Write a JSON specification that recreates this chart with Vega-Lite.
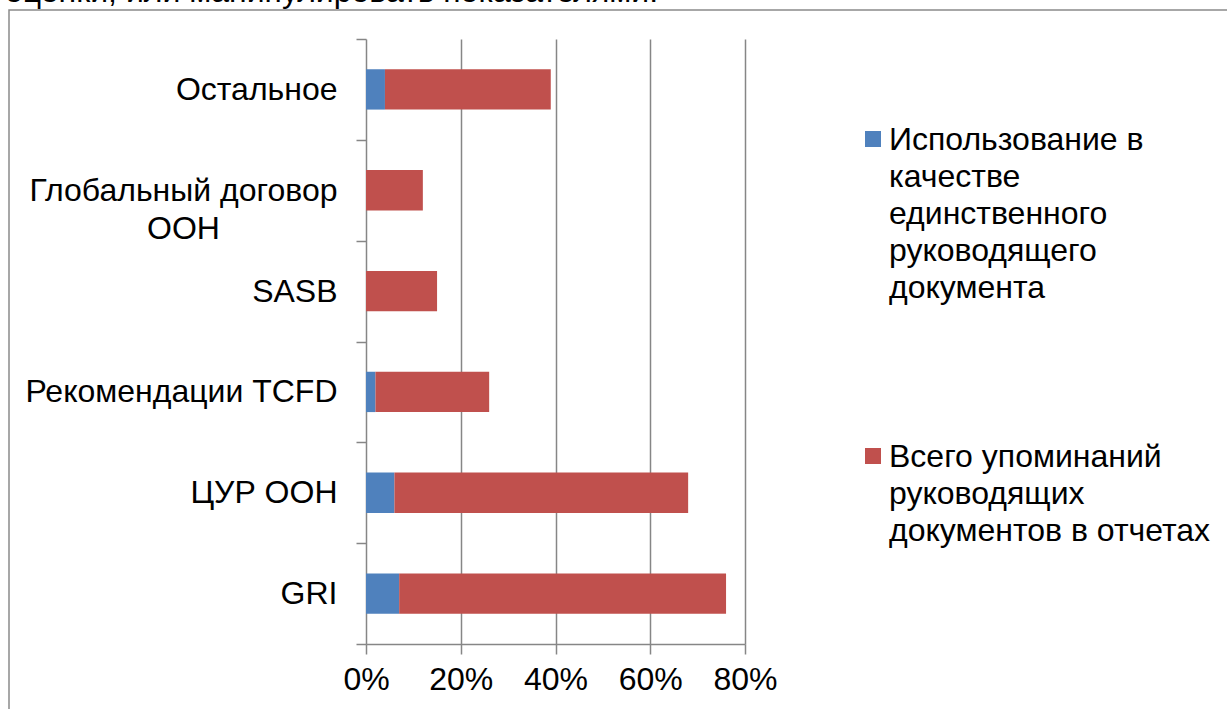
{
  "$schema": "https://vega.github.io/schema/vega-lite/v6.json",
  "width": 1230,
  "height": 711,
  "autosize": {"type": "none"},
  "padding": {"left": 9, "top": 10, "right": -12, "bottom": -12},
  "background": "white",
  "title": {
    "text": "оценки, или манипулировать показателями.",
    "anchor": "start",
    "frame": "group",
    "orient": "top",
    "baseline": "alphabetic",
    "offset": -40,
    "dx": -4,
    "font": "Liberation Sans",
    "fontSize": 32,
    "fontWeight": "normal",
    "color": "black"
  },
  "config": {
    "view": {"stroke": "#8a8a8a", "strokeWidth": 1.5},
    "font": "Liberation Sans"
  },
  "data": {
    "values": [
      {"category": "Остальное", "series": "Использование в качестве единственного руководящего документа", "series_order": 1, "value": 0.04},
      {"category": "Остальное", "series": "Всего упоминаний руководящих документов в отчетах", "series_order": 2, "value": 0.35},
      {"category": "Глобальный договор ООН", "series": "Использование в качестве единственного руководящего документа", "series_order": 1, "value": 0.0},
      {"category": "Глобальный договор ООН", "series": "Всего упоминаний руководящих документов в отчетах", "series_order": 2, "value": 0.12},
      {"category": "SASB", "series": "Использование в качестве единственного руководящего документа", "series_order": 1, "value": 0.0},
      {"category": "SASB", "series": "Всего упоминаний руководящих документов в отчетах", "series_order": 2, "value": 0.15},
      {"category": "Рекомендации TCFD", "series": "Использование в качестве единственного руководящего документа", "series_order": 1, "value": 0.02},
      {"category": "Рекомендации TCFD", "series": "Всего упоминаний руководящих документов в отчетах", "series_order": 2, "value": 0.24},
      {"category": "ЦУР ООН", "series": "Использование в качестве единственного руководящего документа", "series_order": 1, "value": 0.06},
      {"category": "ЦУР ООН", "series": "Всего упоминаний руководящих документов в отчетах", "series_order": 2, "value": 0.62},
      {"category": "GRI", "series": "Использование в качестве единственного руководящего документа", "series_order": 1, "value": 0.07},
      {"category": "GRI", "series": "Всего упоминаний руководящих документов в отчетах", "series_order": 2, "value": 0.69}
    ]
  },
  "encoding": {
    "y": {
      "field": "category",
      "type": "nominal",
      "sort": ["Остальное", "Глобальный договор ООН", "SASB", "Рекомендации TCFD", "ЦУР ООН", "GRI"],
      "scale": {"range": [29, 634], "paddingInner": 0, "paddingOuter": 0},
      "axis": {
        "title": null,
        "orient": "left",
        "offset": -357,
        "grid": false,
        "domainColor": "#868686",
        "domainWidth": 1.5,
        "tickColor": "#868686",
        "tickWidth": 1.5,
        "tickSize": 10,
        "tickBand": "extent",
        "labelFont": "Liberation Sans",
        "labelFontSize": 32,
        "labelColor": "black",
        "labelLimit": 400,
        "labelLineHeight": 38,
        "labelExpr": "datum.value === 'Глобальный договор ООН' ? ['Глобальный договор', 'ООН'] : datum.label",
        "labelAlign": {"condition": {"test": "datum.value === 'Глобальный договор ООН'", "value": "center"}, "value": "right"},
        "labelPadding": {"condition": {"test": "datum.value === 'Глобальный договор ООН'", "value": 173}, "value": 19}
      }
    },
    "x": {
      "field": "value",
      "type": "quantitative",
      "stack": "zero",
      "scale": {"domain": [0, 0.8], "range": [357, 736], "nice": false}
    },
    "order": {"field": "series_order", "type": "quantitative"}
  },
  "layer": [
    {
      "mark": {"type": "bar", "opacity": 0, "height": {"band": 0.4}},
      "encoding": {
        "x": {
          "field": "value",
          "type": "quantitative",
          "stack": "zero",
          "axis": {
            "title": null,
            "orient": "top",
            "values": [0.2, 0.4, 0.6, 0.8],
            "grid": true,
            "gridColor": "#868686",
            "gridWidth": 1.5,
            "domain": false,
            "ticks": false,
            "labels": false
          }
        }
      }
    },
    {
      "mark": {"type": "bar", "height": {"band": 0.4}},
      "encoding": {
        "x": {
          "field": "value",
          "type": "quantitative",
          "stack": "zero",
          "axis": {
            "title": null,
            "orient": "bottom",
            "offset": -77,
            "values": [0, 0.2, 0.4, 0.6, 0.8],
            "format": ".0%",
            "grid": false,
            "domainColor": "#868686",
            "domainWidth": 1.5,
            "tickColor": "#868686",
            "tickWidth": 1.5,
            "tickSize": 10,
            "labelFont": "Liberation Sans",
            "labelFontSize": 32,
            "labelColor": "black",
            "labelPadding": 10,
            "labelFlush": false,
            "labelOverlap": false
          }
        },
        "color": {
          "field": "series",
          "type": "nominal",
          "scale": {
            "domain": ["Использование в качестве единственного руководящего документа", "Всего упоминаний руководящих документов в отчетах"],
            "range": ["#4F81BD", "#C0504D"]
          },
          "legend": {
            "orient": "none",
            "legendX": 848,
            "legendY": 113,
            "title": null,
            "padding": 0,
            "symbolType": "square",
            "symbolSize": 256,
            "symbolStrokeWidth": 0,
            "symbolOpacity": 1,
            "labelFont": "Liberation Sans",
            "labelFontSize": 32,
            "labelColor": "black",
            "labelLimit": 400,
            "labelOffset": 0,
            "labelBaseline": "alphabetic",
            "rowPadding": 136,
            "labelExpr": "datum.label === 'Использование в качестве единственного руководящего документа' ? ['Использование в', 'качестве', 'единственного', 'руководящего', 'документа'] : ['Всего упоминаний', 'руководящих', 'документов в отчетах']",
            "encoding": {"labels": {"lineHeight": {"value": 37}, "dy": {"value": 11}}}
          }
        }
      }
    }
  ]
}
